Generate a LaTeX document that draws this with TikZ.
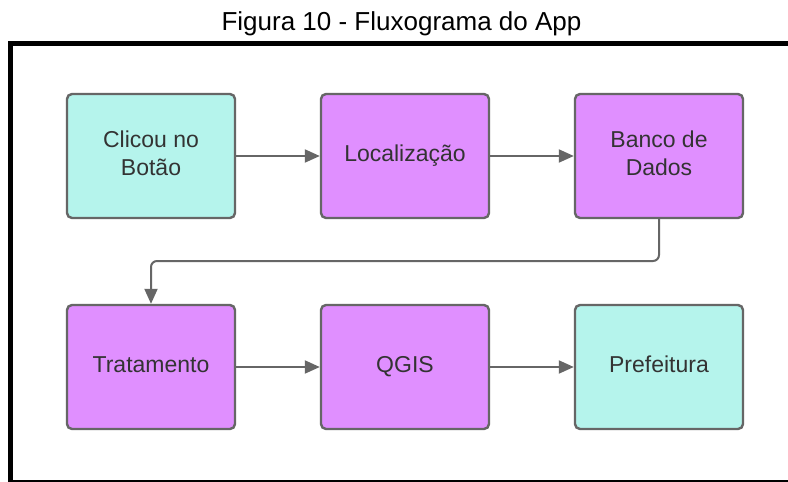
\documentclass[tikz,border=0pt]{standalone}
\usepackage{fontspec}
\setmainfont{Liberation Sans}
\usetikzlibrary{arrows.meta}
\definecolor{cyanbox}{HTML}{B5F4EC}
\definecolor{purplebox}{HTML}{E08FFF}
\definecolor{edgegray}{HTML}{666666}
\definecolor{txtgray}{HTML}{333333}
\tikzset{
  flowbox/.style={draw=edgegray, line width=2.4pt, rounded corners=5pt,
    minimum width=168pt, minimum height=124pt, inner sep=0pt,
    align=center, font=\fontsize{23}{28}\selectfont, text=txtgray},
  cyanstep/.style={flowbox, fill=cyanbox},
  purplestep/.style={flowbox, fill=purplebox},
  flowarrow/.style={draw=edgegray, line width=2pt,
    -{Triangle[length=15pt,width=13pt]}}
}
\begin{document}
\begin{tikzpicture}[x=1pt,y=-1pt]
\useasboundingbox (0,0) rectangle (788,482);
\fill[white] (0,0) rectangle (788,482);
% frame
\draw[line width=5pt] (10.5,482) -- (10.5,43) -- (788,43);
\draw[line width=1.5pt] (8,481) -- (788,481);
% title
\node[font=\fontsize{26}{30}\selectfont, anchor=base, inner sep=0pt] (title) at (401.5,30.5) {Figura 10 - Fluxograma do App};
% boxes
\node[cyanstep]   (b1) at (151,156) {\strut Clicou no\\\strut Botão};
\node[purplestep] (b2) at (405,156) {\strut Localização};
\node[purplestep] (b3) at (659,156) {\strut Banco de\\\strut Dados};
\node[purplestep] (b4) at (151,367) {\strut Tratamento};
\node[purplestep] (b5) at (405,367) {\strut QGIS};
\node[cyanstep]   (b6) at (659,367) {\strut Prefeitura};
% connectors
\draw[flowarrow] (b1) -- (b2);
\draw[flowarrow] (b2) -- (b3);
\draw[flowarrow, rounded corners=6pt] (b3.south) -- (659,261) -- (151,261) -- (b4.north);
\draw[flowarrow] (b4) -- (b5);
\draw[flowarrow] (b5) -- (b6);
\end{tikzpicture}
\end{document}
